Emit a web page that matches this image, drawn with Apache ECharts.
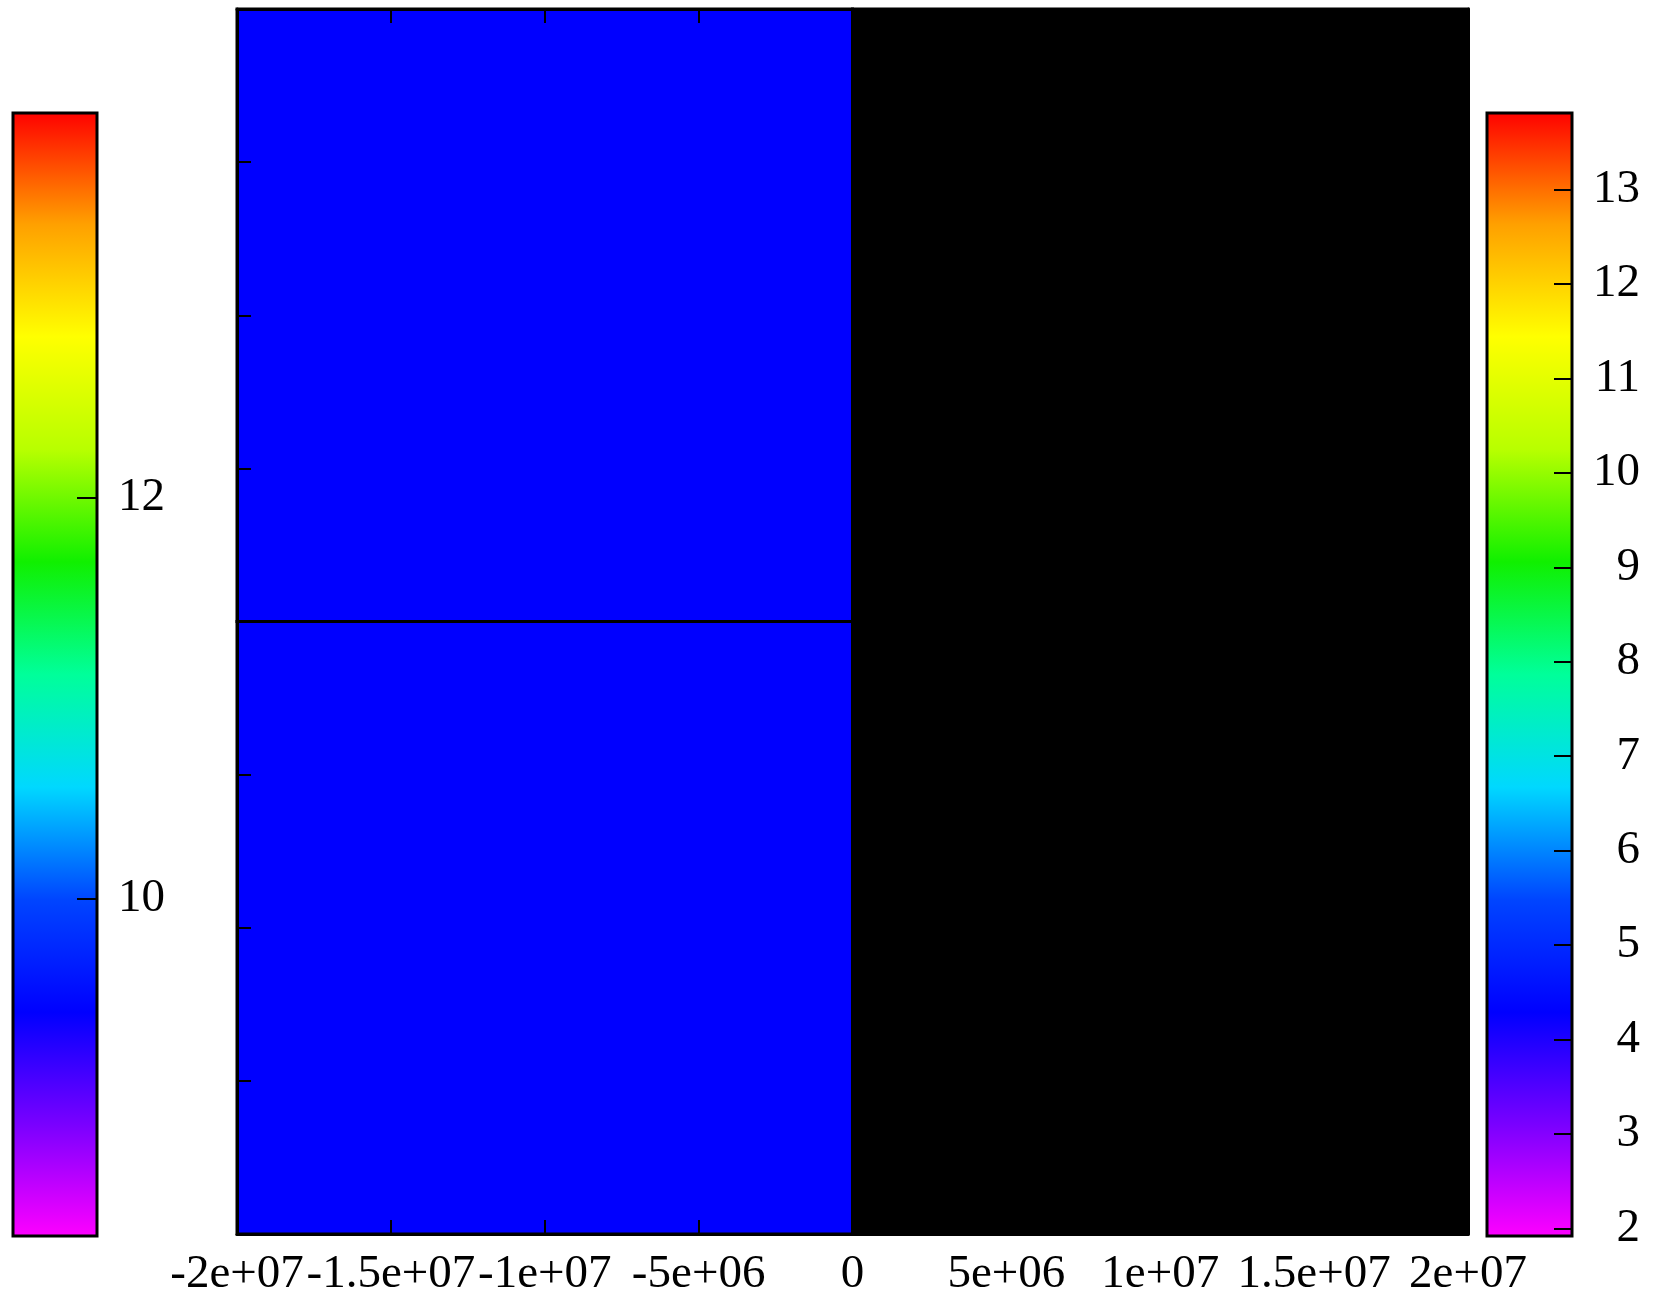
<!DOCTYPE html>
<html>
<head>
<meta charset="utf-8">
<script src="https://cdn.jsdelivr.net/npm/echarts@6/dist/echarts.min.js"></script>
<style>
html,body{margin:0;padding:0;background:#fff;}
#chart{width:1658px;height:1298px;}
</style>
</head>
<body>
<div id="chart"></div>
<script>
// ---- data ----
const xTickValues = [-2e7, -1.5e7, -1e7, -5e6, 0, 5e6, 1e7, 1.5e7, 2e7];
const xTickLabels = ['-2e+07', '-1.5e+07', '-1e+07', '-5e+06', '0', '5e+06', '1e+07', '1.5e+07', '2e+07'];
const cellX0 = [-2e7, -2e7, 0, 0];
const cellX1 = [0, 0, 2e7, 2e7];
const cellY0 = [0, 4, 0, 4];
const cellY1 = [4, 8, 4, 8];
const cellValue = [4.3, 4.3, null, null];
const leftBarRange = [8.32, 13.92];
const leftBarTicks = [10, 12];
const rightBarRange = [1.92, 13.81];
const rightBarTicks = [2, 3, 4, 5, 6, 7, 8, 9, 10, 11, 12, 13];
const paletteColors = ['#ff00ff', '#7a00ff', '#0000ff', '#0045ff', '#00d8ff', '#00ff9a', '#10f000', '#b8ff00', '#ffff00', '#ffa000', '#ff0000'];

// ---- build ----
const cells = cellX0.map((x0, i) => [x0, cellY0[i], cellX1[i], cellY1[i], cellValue[i] == null ? '-' : cellValue[i]]);
const gradStops = paletteColors.map((c, i) => ({offset: i / (paletteColors.length - 1), color: c}));
const FONT = 'Liberation Serif';

function barRender(params, api) {
  const p0 = api.coord([0, api.value(1)]);
  const p1 = api.coord([1, api.value(2)]);
  return {
    type: 'rect',
    shape: {x: p0[0], y: p1[1], width: p1[0] - p0[0], height: p0[1] - p1[1]},
    style: {
      fill: new echarts.graphic.LinearGradient(0, 1, 0, 0, gradStops),
      stroke: '#000', lineWidth: 3
    }
  };
}

const mainLine = {show: true, onZero: false, lineStyle: {color: '#000', width: 3}};
const mainTick = {show: true, inside: true, length: 14, lineStyle: {color: '#000', width: 2}};

const chart = echarts.init(document.getElementById('chart'));
chart.setOption({
  animation: false,
  backgroundColor: '#fff',
  grid: [
    {left: 237, top: 9, width: 1231, height: 1227},
    {left: 13, top: 113, width: 84, height: 1123},
    {left: 1487, top: 113, width: 85, height: 1123}
  ],
  visualMap: {
    show: false, type: 'continuous', seriesIndex: 0, dimension: 4,
    min: rightBarRange[0], max: rightBarRange[1],
    inRange: {color: paletteColors}, outOfRange: {color: '#000'}
  },
  xAxis: [
    {gridIndex: 0, type: 'value', min: -2e7, max: 2e7, interval: 5e6, position: 'bottom', z: 10,
     axisLine: mainLine, axisTick: mainTick, splitLine: {show: false},
     axisLabel: {show: true, margin: 17, fontFamily: FONT, fontSize: 47, color: '#000',
       formatter: v => { const k = xTickValues.indexOf(v); return k >= 0 ? xTickLabels[k] : ''; }}},
    {gridIndex: 0, type: 'value', min: -2e7, max: 2e7, interval: 5e6, position: 'top', z: 10,
     axisLine: mainLine, axisTick: mainTick, splitLine: {show: false}, axisLabel: {show: false}},
    {gridIndex: 1, type: 'value', min: 0, max: 1, show: false},
    {gridIndex: 2, type: 'value', min: 0, max: 1, show: false}
  ],
  yAxis: [
    {gridIndex: 0, type: 'value', min: 0, max: 8, interval: 1, position: 'left', z: 10,
     axisLine: mainLine, axisTick: mainTick, splitLine: {show: false}, axisLabel: {show: false}},
    {gridIndex: 0, type: 'value', min: 0, max: 8, interval: 1, position: 'right', z: 10,
     axisLine: mainLine, axisTick: mainTick, splitLine: {show: false}, axisLabel: {show: false}},
    {gridIndex: 1, type: 'value', min: leftBarRange[0], max: leftBarRange[1], position: 'right', z: 10,
     axisLine: {show: false, onZero: false},
     axisTick: {show: true, inside: true, length: 20, customValues: leftBarTicks, lineStyle: {color: '#000', width: 2}},
     splitLine: {show: false},
     axisLabel: {show: true, inside: false, margin: 21, customValues: leftBarTicks, fontFamily: FONT, fontSize: 47, color: '#000', align: 'left'}},
    {gridIndex: 2, type: 'value', min: rightBarRange[0], max: rightBarRange[1], position: 'right', z: 10,
     axisLine: {show: false, onZero: false},
     axisTick: {show: true, inside: true, length: 18, customValues: rightBarTicks, lineStyle: {color: '#000', width: 2}},
     splitLine: {show: false},
     axisLabel: {show: true, inside: false, margin: 68, customValues: rightBarTicks, fontFamily: FONT, fontSize: 47, color: '#000', align: 'right'}}
  ],
  series: [
    {
      type: 'custom', xAxisIndex: 0, yAxisIndex: 0,
      encode: {x: [0, 2], y: [1, 3]},
      data: cells,
      renderItem: function (params, api) {
        const a = api.coord([api.value(0), api.value(3)]);
        const b = api.coord([api.value(2), api.value(1)]);
        const v = api.value(4);
        return {
          type: 'rect',
          shape: {x: a[0], y: a[1], width: b[0] - a[0], height: b[1] - a[1]},
          style: {fill: isNaN(v) ? '#000' : api.visual('color'), stroke: '#000', lineWidth: 3}
        };
      }
    },
    {
      type: 'custom', xAxisIndex: 2, yAxisIndex: 2,
      encode: {x: 0, y: [1, 2]},
      data: [[0, leftBarRange[0], leftBarRange[1]]],
      renderItem: barRender
    },
    {
      type: 'custom', xAxisIndex: 3, yAxisIndex: 3,
      encode: {x: 0, y: [1, 2]},
      data: [[0, rightBarRange[0], rightBarRange[1]]],
      renderItem: barRender
    }
  ]
});
</script>
</body>
</html>
